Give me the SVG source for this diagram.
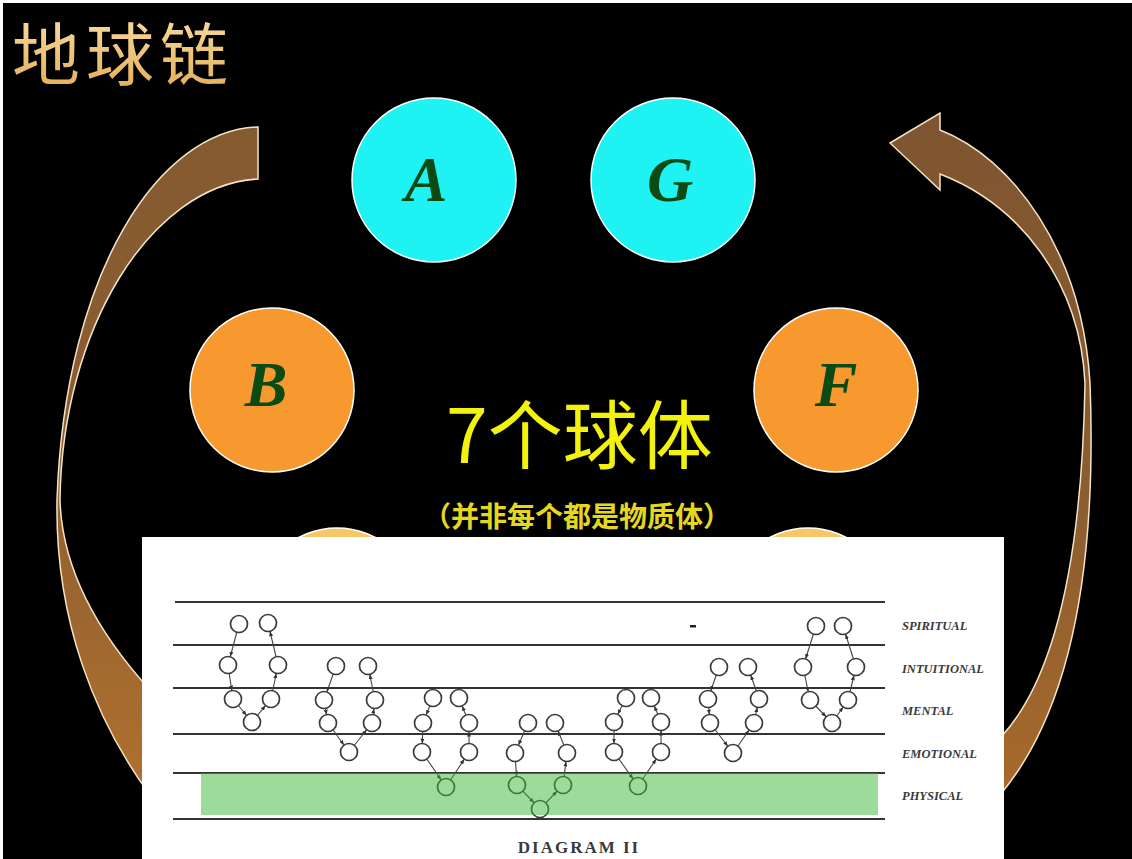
<svg xmlns="http://www.w3.org/2000/svg" width="1132" height="859" viewBox="0 0 1132 859">
<defs>
<style>
.big{stroke:#fff;stroke-width:1.5}
.cy{fill:#1ef2f2}
.or{fill:#f7992e}
.lo{fill:#f8c665}
.let{font-family:"Liberation Serif",serif;font-style:italic;font-weight:bold;font-size:64px;fill:#0b4a12;text-anchor:middle}
.hl{stroke:#333;stroke-width:1.8;fill:none}
.s{fill:#fff;stroke:#3a3a3a;stroke-width:1.7}
.c{stroke:#444;stroke-width:1.1;marker-end:url(#ah)}
.lab{font-family:"Liberation Serif",serif;font-style:italic;font-weight:bold;font-size:12.5px;fill:#3a3a3a}
.band{stroke:#f3e4c6;stroke-width:1.5}
</style>
<marker id="ah" markerUnits="userSpaceOnUse" markerWidth="14" markerHeight="4" refX="13.5" refY="2" orient="auto">
<path d="M0,0 L5,2 L0,4 z" fill="#333"/>
</marker>
<linearGradient id="tg" x1="0" y1="0" x2="0" y2="1">
<stop offset="0" stop-color="#fbe3ac"/>
<stop offset="1" stop-color="#e2a94f"/>
</linearGradient>
<linearGradient id="lb" x1="0" y1="0" x2="0" y2="1">
<stop offset="0" stop-color="#845a31"/>
<stop offset="0.5" stop-color="#8e5e30"/>
<stop offset="1" stop-color="#b0702e"/>
</linearGradient>
<linearGradient id="rb" x1="0" y1="0" x2="0" y2="1">
<stop offset="0" stop-color="#7e5530"/>
<stop offset="0.6" stop-color="#8d5e2f"/>
<stop offset="1" stop-color="#a8692c"/>
</linearGradient>
</defs>
<rect x="0" y="0" width="1132" height="859" fill="#ffffff"/>
<rect x="3" y="3" width="1129" height="856" fill="#000000"/>
<text x="12" y="80" font-family="'Noto Sans CJK SC',sans-serif" font-size="68" letter-spacing="6" fill="url(#tg)">地球链</text>

<g id="sphere-C"><circle class="big lo" cx="337" cy="610" r="82"/></g>
<g id="sphere-E"><circle class="big lo" cx="808" cy="610" r="82"/></g>
<g id="sphere-A"><circle class="big cy" cx="434" cy="180" r="82"/><text class="let" x="426" y="201">A</text></g>
<g id="sphere-G"><circle class="big cy" cx="673" cy="180" r="82"/><text class="let" x="670" y="201">G</text></g>
<g id="sphere-B"><circle class="big or" cx="272" cy="390" r="82"/><text class="let" x="266" y="406">B</text></g>
<g id="sphere-F"><circle class="big or" cx="836" cy="390" r="82"/><text class="let" x="836" y="406">F</text></g>

<g id="connectors">
<path class="band" fill="url(#lb)" d="M258,127 C160,130 65,270 57,500 C55,620 95,720 150,795 L150,690 C100,635 62,570 60,500 C62,330 150,185 258,179 Z"/>
<path class="band" fill="url(#rb)" d="M890,143 L940,113 L940,130 C1012,158 1082,250 1090,383 C1096,540 1080,700 1000,795 L1000,738 C1055,680 1082,560 1085,383 C1080,282 1020,205 940,174 L940,190 Z"/>
</g>

<text x="446" y="463" font-family="'Noto Sans CJK SC',sans-serif" font-size="75" fill="#f2f20c">7个球体</text>
<text x="577" y="527" text-anchor="middle" font-family="'Noto Sans CJK SC',sans-serif" font-size="28" font-weight="700" fill="#e4d81e">（并非每个都是物质体）</text>

<g id="diagram-ii">
<rect x="142" y="537" width="862" height="322" fill="#ffffff"/>
<line class="hl" x1="175" y1="602" x2="885" y2="602"/>
<line class="hl" x1="173" y1="645" x2="885" y2="645"/>
<line class="hl" x1="173" y1="688" x2="885" y2="688"/>
<line class="hl" x1="173" y1="734" x2="885" y2="734"/>
<line class="hl" x1="173" y1="773" x2="885" y2="773"/>
<line class="hl" x1="173" y1="819" x2="885" y2="819"/>
<rect x="690" y="625" width="6" height="2.5" fill="#222"/>
</g>

<g id="chain-connectors">
<line class="c" x1="239" y1="624" x2="228" y2="665"/>
<line class="c" x1="228" y1="665" x2="233" y2="699"/>
<line class="c" x1="233" y1="699" x2="252" y2="722"/>
<line class="c" x1="252" y1="722" x2="271" y2="699"/>
<line class="c" x1="271" y1="699" x2="278" y2="665"/>
<line class="c" x1="278" y1="665" x2="268" y2="623"/>

<line class="c" x1="336" y1="666" x2="324" y2="700"/>
<line class="c" x1="324" y1="700" x2="328" y2="723"/>
<line class="c" x1="328" y1="723" x2="349" y2="752"/>
<line class="c" x1="349" y1="752" x2="372" y2="723"/>
<line class="c" x1="372" y1="723" x2="375" y2="700"/>
<line class="c" x1="375" y1="700" x2="368" y2="666"/>

<line class="c" x1="433" y1="698" x2="423" y2="723"/>
<line class="c" x1="423" y1="723" x2="422" y2="752"/>
<line class="c" x1="422" y1="752" x2="446" y2="787"/>
<line class="c" x1="446" y1="787" x2="469" y2="752"/>
<line class="c" x1="469" y1="752" x2="469" y2="723"/>
<line class="c" x1="469" y1="723" x2="459" y2="698"/>

<line class="c" x1="528" y1="723" x2="515" y2="753"/>
<line class="c" x1="515" y1="753" x2="517" y2="785"/>
<line class="c" x1="517" y1="785" x2="540" y2="809"/>
<line class="c" x1="540" y1="809" x2="563" y2="785"/>
<line class="c" x1="563" y1="785" x2="567" y2="753"/>
<line class="c" x1="567" y1="753" x2="555" y2="723"/>

<line class="c" x1="626" y1="698" x2="614" y2="722"/>
<line class="c" x1="614" y1="722" x2="614" y2="752"/>
<line class="c" x1="614" y1="752" x2="638" y2="786"/>
<line class="c" x1="638" y1="786" x2="661" y2="752"/>
<line class="c" x1="661" y1="752" x2="661" y2="722"/>
<line class="c" x1="661" y1="722" x2="651" y2="698"/>

<line class="c" x1="719" y1="667" x2="708" y2="699"/>
<line class="c" x1="708" y1="699" x2="710" y2="723"/>
<line class="c" x1="710" y1="723" x2="733" y2="753"/>
<line class="c" x1="733" y1="753" x2="754" y2="723"/>
<line class="c" x1="754" y1="723" x2="759" y2="699"/>
<line class="c" x1="759" y1="699" x2="748" y2="667"/>

<line class="c" x1="816" y1="626" x2="803" y2="667"/>
<line class="c" x1="803" y1="667" x2="810" y2="700"/>
<line class="c" x1="810" y1="700" x2="832" y2="723"/>
<line class="c" x1="832" y1="723" x2="848" y2="700"/>
<line class="c" x1="848" y1="700" x2="856" y2="667"/>
<line class="c" x1="856" y1="667" x2="843" y2="626"/>
</g>

<g id="round-1">
<circle class="s" cx="239" cy="624" r="8.5"/><circle class="s" cx="268" cy="623" r="8.5"/>
<circle class="s" cx="228" cy="665" r="8.5"/><circle class="s" cx="278" cy="665" r="8.5"/>
<circle class="s" cx="233" cy="699" r="8.5"/><circle class="s" cx="271" cy="699" r="8.5"/>
<circle class="s" cx="252" cy="722" r="8.5"/>
</g>
<g id="round-2">
<circle class="s" cx="336" cy="666" r="8.5"/><circle class="s" cx="368" cy="666" r="8.5"/>
<circle class="s" cx="324" cy="700" r="8.5"/><circle class="s" cx="375" cy="700" r="8.5"/>
<circle class="s" cx="328" cy="723" r="8.5"/><circle class="s" cx="372" cy="723" r="8.5"/>
<circle class="s" cx="349" cy="752" r="8.5"/>
</g>
<g id="round-3">
<circle class="s" cx="433" cy="698" r="8.5"/><circle class="s" cx="459" cy="698" r="8.5"/>
<circle class="s" cx="423" cy="723" r="8.5"/><circle class="s" cx="469" cy="723" r="8.5"/>
<circle class="s" cx="422" cy="752" r="8.5"/><circle class="s" cx="469" cy="752" r="8.5"/>
<circle class="s" cx="446" cy="787" r="8.5"/>
</g>
<g id="round-4">
<circle class="s" cx="528" cy="723" r="8.5"/><circle class="s" cx="555" cy="723" r="8.5"/>
<circle class="s" cx="515" cy="753" r="8.5"/><circle class="s" cx="567" cy="753" r="8.5"/>
<circle class="s" cx="517" cy="785" r="8.5"/><circle class="s" cx="563" cy="785" r="8.5"/>
<circle class="s" cx="540" cy="809" r="8.5"/>
</g>
<g id="round-5">
<circle class="s" cx="626" cy="698" r="8.5"/><circle class="s" cx="651" cy="698" r="8.5"/>
<circle class="s" cx="614" cy="722" r="8.5"/><circle class="s" cx="661" cy="722" r="8.5"/>
<circle class="s" cx="614" cy="752" r="8.5"/><circle class="s" cx="661" cy="752" r="8.5"/>
<circle class="s" cx="638" cy="786" r="8.5"/>
</g>
<g id="round-6">
<circle class="s" cx="719" cy="667" r="8.5"/><circle class="s" cx="748" cy="667" r="8.5"/>
<circle class="s" cx="708" cy="699" r="8.5"/><circle class="s" cx="759" cy="699" r="8.5"/>
<circle class="s" cx="710" cy="723" r="8.5"/><circle class="s" cx="754" cy="723" r="8.5"/>
<circle class="s" cx="733" cy="753" r="8.5"/>
</g>
<g id="round-7">
<circle class="s" cx="816" cy="626" r="8.5"/><circle class="s" cx="843" cy="626" r="8.5"/>
<circle class="s" cx="803" cy="667" r="8.5"/><circle class="s" cx="856" cy="667" r="8.5"/>
<circle class="s" cx="810" cy="700" r="8.5"/><circle class="s" cx="848" cy="700" r="8.5"/>
<circle class="s" cx="832" cy="723" r="8.5"/>
</g>

<rect id="physical-band" x="201" y="773" width="677" height="42" fill="rgb(60,184,60)" fill-opacity="0.5"/>

<g id="plane-labels">
<text class="lab" x="902" y="630">SPIRITUAL</text>
<text class="lab" x="902" y="673">INTUITIONAL</text>
<text class="lab" x="902" y="715">MENTAL</text>
<text class="lab" x="902" y="758">EMOTIONAL</text>
<text class="lab" x="902" y="800">PHYSICAL</text>
</g>
<text x="579" y="853" text-anchor="middle" font-family="'Liberation Serif',serif" font-weight="bold" font-size="17" letter-spacing="2" fill="#3a3a3a">DIAGRAM  II</text>
</svg>
